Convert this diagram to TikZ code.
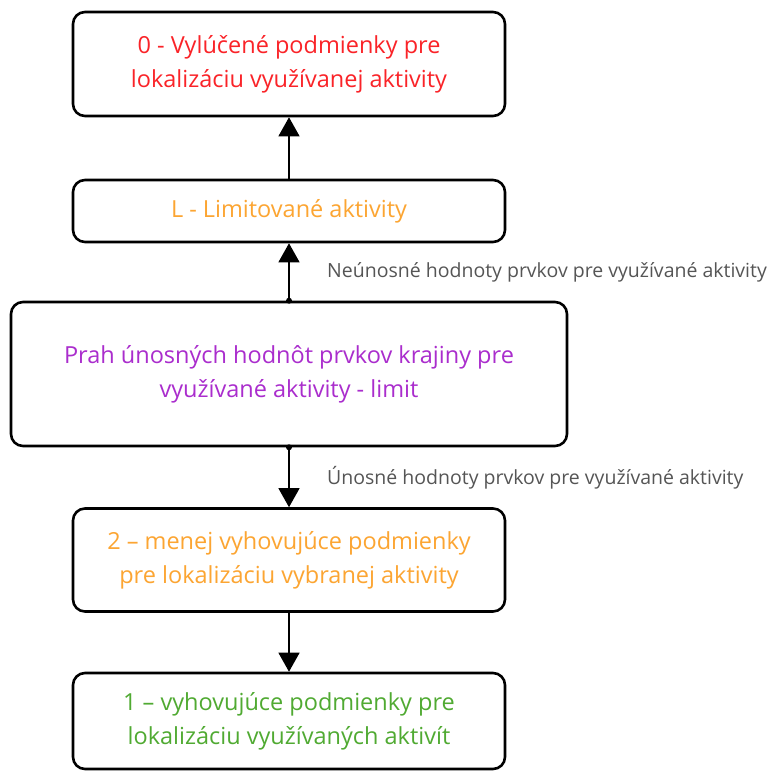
\documentclass[tikz,border=0pt]{standalone}
\usepackage{fontspec}
\setmainfont{Open Sans}
\usetikzlibrary{arrows.meta}
\definecolor{vylucene}{RGB}{250,35,40}
\definecolor{limit}{RGB}{252,165,50}
\definecolor{prah}{RGB}{170,45,205}
\definecolor{vyhovuje}{RGB}{80,170,50}
\definecolor{popisok}{RGB}{85,85,85}

\begin{document}
\begin{tikzpicture}[x=1pt, y=-1pt,
    box/.style={draw, line width=2.6pt, rounded corners=12pt, fill=white, align=center,
      inner sep=0pt, minimum width=432pt, font=\fontsize{23.5}{34}\selectfont},
    tok/.style={line width=1.3pt, -{Triangle[width=21pt,length=19pt]}},
    popis/.style={anchor=west, inner sep=0pt, text=popisok, font=\fontsize{19.5}{22}\selectfont}]
  \useasboundingbox (0,0) rectangle (770,772);

  % boxes, top to bottom
  \node[box, minimum height=104pt, text=vylucene] (p0) at (289,64)
    {0 - Vylúčené podmienky pre\\lokalizáciu využívanej aktivity};
  \node[box, minimum height=62pt, text=limit] (pl) at (289,211)
    {L - Limitované aktivity};
  \node[box, minimum height=144pt, minimum width=556pt, text=prah] (prah) at (289,374)
    {Prah únosných hodnôt prvkov krajiny pre\\využívané aktivity - limit};
  \node[box, minimum height=103pt, text=limit] (p2) at (289,560)
    {2 – menej vyhovujúce podmienky\\pre lokalizáciu vybranej aktivity};
  \node[box, minimum height=96pt, text=vyhovuje] (p1) at (289,721)
    {1 – vyhovujúce podmienky pre\\lokalizáciu využívaných aktivít};

  % connectors
  \draw[tok] (pl.north) -- (p0.south);
  \draw[tok] (prah.north) -- (pl.south);
  \draw[tok] (prah.south) -- (p2.north);
  \draw[tok] (p2.south) -- (p1.north);
  \foreach \a in {north,south}
    \fill (prah.\a) circle (3pt);

  \node[popis] (neunosne) at (327,272) {Neúnosné hodnoty prvkov pre využívané aktivity};
  \node[popis] (unosne) at (327,478) {Únosné hodnoty prvkov pre využívané aktivity};
\end{tikzpicture}
\end{document}
